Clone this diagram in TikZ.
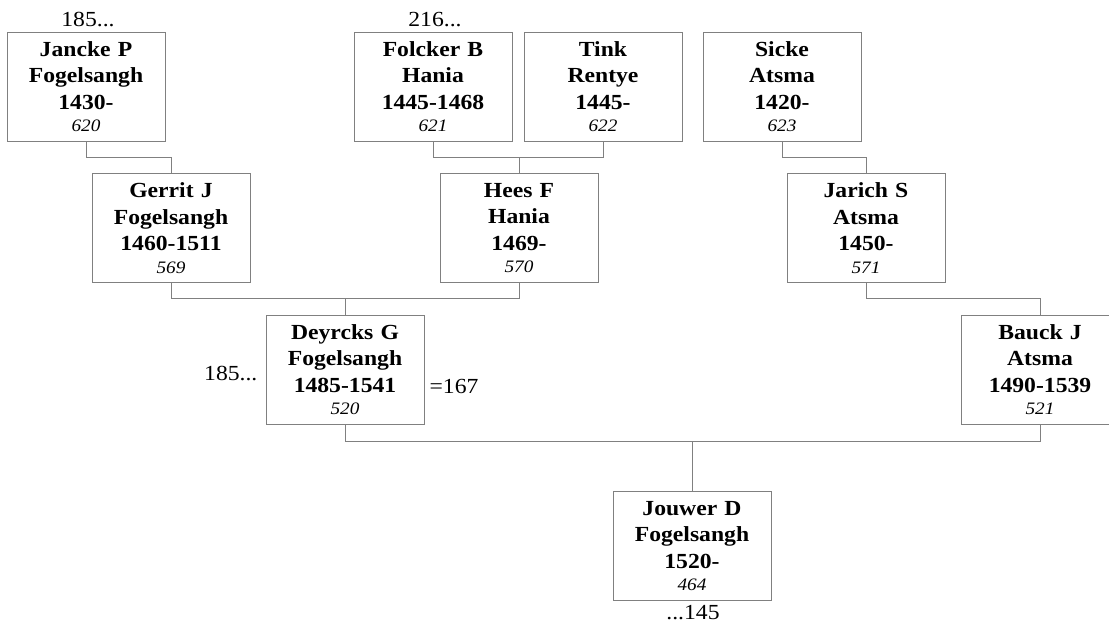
\documentclass[tikz,border=0pt]{standalone}
\usepackage{fontspec}
\setmainfont{Liberation Serif}[FakeStretch=1.1]
\usetikzlibrary{calc}
\definecolor{boxgray}{RGB}{128,128,128}
\newcommand{\idno}[1]{\\[-4pt]{\fontsize{17.5}{21}\selectfont\mdseries\itshape #1}}

\begin{document}
\begin{tikzpicture}[x=1pt,y=-1pt,
  person/.style={draw=boxgray, line width=0.8pt, minimum width=158pt, minimum height=109pt,
    text width=156pt, inner sep=1pt, align=center, font=\fontsize{21.5}{26.5}\selectfont\bfseries},
  link/.style={draw=boxgray, line width=0.8pt},
  tag/.style={font=\fontsize{21.5}{26}\selectfont, inner sep=0pt}]
\useasboundingbox (0,0) rectangle (1109,628);
\clip (0,0) rectangle (1109,628);
\node[person] (jancke) at (86,86.5) {Jancke P\\Fogelsangh\\1430-\idno{620}};
\node[person] (folcker) at (433,86.5) {Folcker B\\Hania\\1445-1468\idno{621}};
\node[person] (tink) at (603,86.5) {Tink\\Rentye\\1445-\idno{622}};
\node[person] (sicke) at (782,86.5) {Sicke\\Atsma\\1420-\idno{623}};
\node[person] (gerrit) at (171,228) {Gerrit J\\Fogelsangh\\1460-1511\idno{569}};
\node[person] (hees) at (519,228) {Hees F\\Hania\\1469-\idno{570}};
\node[person] (jarich) at (866,228) {Jarich S\\Atsma\\1450-\idno{571}};
\node[person] (deyrcks) at (345,369.5) {Deyrcks G\\Fogelsangh\\1485-1541\idno{520}};
\node[person] (bauck) at (1040,369.5) {Bauck J\\Atsma\\1490-1539\idno{521}};
\node[person] (jouwer) at (692,546) {Jouwer D\\Fogelsangh\\1520-\idno{464}};
\draw[link] (jancke.south) -- ++(0,16) -| (gerrit.north);
\draw[link] (folcker.south) -- ++(0,16) -| (tink.south);
\draw[link] (hees.north) -- ++(0,-16);
\draw[link] (sicke.south) -- ++(0,16) -| (jarich.north);
\draw[link] (gerrit.south) -- ++(0,16) -| (hees.south);
\draw[link] (deyrcks.north) -- ++(0,-16);
\draw[link] (jarich.south) -- ++(0,16) -| (bauck.north);
\draw[link] (deyrcks.south) -- ++(0,17) -| (bauck.south);
\coordinate (knot) at ($(deyrcks.south)+(0,17)$);
\draw[link] (jouwer.north) -- (jouwer.north |- knot);
\node[tag, anchor=base] (up185) at ($(jancke.north)+(2,-5)$) {185...};
\node[tag, anchor=base] (up216) at ($(folcker.north)+(2,-5)$) {216...};
\node[tag, anchor=base east] (left185) at ($(deyrcks.west)+(-8,11.5)$) {185...};
\node[tag, anchor=base west] (right167) at ($(deyrcks.east)+(5,24.5)$) {=167};
\node[tag, anchor=base] (down145) at ($(jouwer.south)+(1,19)$) {...145};
\end{tikzpicture}
\end{document}
